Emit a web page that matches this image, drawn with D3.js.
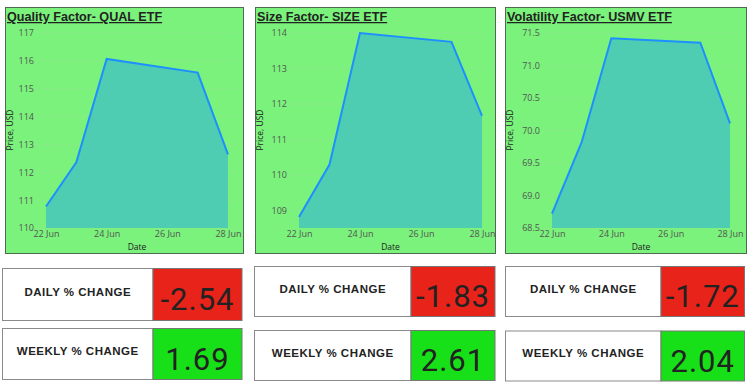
<!DOCTYPE html>
<html><head><meta charset="utf-8">
<script src="https://cdn.jsdelivr.net/npm/d3@7"></script>
<style>
body{margin:0;background:#fff;}
svg{display:block;font-family:"Liberation Sans",Arial,sans-serif;}
</style></head>
<body>
<svg id="c" width="753" height="389"></svg>
<script>
const dates = ["2022-06-22","2022-06-23","2022-06-24","2022-06-27","2022-06-28"];
const tickDates = ["2022-06-22","2022-06-24","2022-06-26","2022-06-28"];
const titles = ["Quality Factor- QUAL ETF","Size Factor- SIZE ETF","Volatility Factor- USMV ETF"];
const qualValues = [110.77, 112.36, 116.07, 115.58, 112.64];
const sizeValues = [108.81, 110.29, 114.0, 113.75, 111.66];
const usmvValues = [68.72, 69.82, 71.42, 71.35, 70.11];
const yDomains = [[110,117],[108.5,114],[68.5,71.5]];
const yTicks = [[110,111,112,113,114,115,116,117],[109,110,111,112,113,114],[68.5,69.0,69.5,70.0,70.5,71.0,71.5]];
const yFormats = ["d","d",".1f"];
const dailyChange = ["-2.54","-1.83","-1.72"];
const weeklyChange = ["1.69","2.61","2.04"];
const seriesValues = [qualValues, sizeValues, usmvValues];

const svg = d3.select("#c");
const parse = d3.timeParse("%Y-%m-%d");
const fmtTick = d3.timeFormat("%d %b");

const panels = [
  {x0:5, x1:243, pl:46, pr:228},
  {x0:255, x1:495, pl:299, pr:482},
  {x0:505, x1:746, pl:552, pr:730}
];
const cards = [
  {x0:2.5, xm:153, x1:242, d:[268,320], w:[328,379]},
  {x0:254.5, xm:411, x1:495, d:[266,316], w:[330,380]},
  {x0:505.5, xm:661, x1:744.5, d:[266,316], w:[330.5,380.5]}
];

panels.forEach((p,i)=>{
  const g = svg.append("g");
  g.append("rect").attr("x",p.x0+0.5).attr("y",7.5).attr("width",p.x1-p.x0).attr("height",246)
    .attr("fill","#7AF27B").attr("stroke","#4f6b4f").attr("stroke-width",1);
  g.append("text").attr("x",p.x0+2).attr("y",21).text(titles[i])
    .attr("font-size","12.6px").attr("font-weight","bold").attr("fill","#222")
    .attr("text-decoration","underline");

  const x = d3.scaleTime().domain([parse(dates[0]), parse(dates[dates.length-1])]).range([p.pl,p.pr]);
  const y = d3.scaleLinear().domain(yDomains[i]).range([228,33]);

  g.selectAll(".grid").data(yTicks[i]).enter().append("line")
    .attr("x1",p.pl-8).attr("x2",p.x1-8)
    .attr("y1",d=>y(d)).attr("y2",d=>y(d))
    .attr("stroke","#a9d6a5").attr("stroke-width",1).attr("stroke-dasharray","1,3");

  const data = dates.map((d,k)=>({d:parse(d), v:seriesValues[i][k]}));
  g.append("path").datum(data)
    .attr("d", d3.area().x(d=>x(d.d)).y0(y(yDomains[i][0])).y1(d=>y(d.v)))
    .attr("fill","#4FCDB3");
  g.append("path").datum(data)
    .attr("d", d3.line().x(d=>x(d.d)).y(d=>y(d.v)))
    .attr("fill","none").attr("stroke","#1E8FFF").attr("stroke-width",2).attr("stroke-linejoin","miter");

  const ya = g.append("g").attr("transform",`translate(${p.pl-12},0)`)
    .call(d3.axisLeft(y).tickValues(yTicks[i]).tickFormat(d3.format(yFormats[i])).tickSize(0).tickPadding(0));
  ya.select(".domain").remove();
  ya.selectAll("text").attr("font-size","9px").attr("fill","#555").attr("font-family","'Open Sans',sans-serif").attr("dy","0.32em");

  const xa = g.append("g").attr("transform",`translate(0,231)`)
    .call(d3.axisBottom(x).tickValues(tickDates.map(parse)).tickFormat(fmtTick).tickSize(0).tickPadding(0));
  xa.select(".domain").remove();
  xa.selectAll("text").attr("font-size","9px").attr("fill","#555").attr("font-family","'Open Sans',sans-serif").attr("dy","0.71em");

  g.append("text").attr("transform",`translate(${p.x0+8},130) rotate(-90)`).attr("text-anchor","middle")
    .attr("font-size","8.5px").attr("fill","#222").attr("font-family","'Open Sans',sans-serif").text("Price, USD");
  g.append("text").attr("x",(p.pl+p.pr)/2).attr("y",250).attr("text-anchor","middle")
    .attr("font-size","8.5px").attr("fill","#222").attr("font-family","'Open Sans',sans-serif").text("Date");

  const c = cards[i];
  [["DAILY % CHANGE", dailyChange[i], c.d, "#E8231A"],["WEEKLY % CHANGE", weeklyChange[i], c.w, "#17E018"]].forEach(([lab,val,yy,col])=>{
    g.append("rect").attr("x",c.x0).attr("y",yy[0]+0.5).attr("width",c.xm-c.x0).attr("height",yy[1]-yy[0])
      .attr("fill","#fff").attr("stroke","#8a8a8a");
    g.append("rect").attr("x",c.xm).attr("y",yy[0]+0.5).attr("width",c.x1-c.xm).attr("height",yy[1]-yy[0])
      .attr("fill",col).attr("stroke","#777");
    g.append("text").attr("x",(c.x0+c.xm)/2).attr("y",(yy[0]+yy[1])/2+1.5).attr("text-anchor","middle")
      .attr("font-size","11.5px").attr("font-weight","bold").attr("fill","#222").attr("letter-spacing","0.5px").text(lab);
    g.append("text").attr("x",(c.xm+c.x1)/2).attr("y",(yy[0]+yy[1])/2+16).attr("text-anchor","middle")
      .attr("font-size","31px").attr("fill","#222").attr("font-family","Roboto,sans-serif").attr("font-weight","400")
      .attr("letter-spacing","1px").text(val);
  });
});
</script>
</body></html>
